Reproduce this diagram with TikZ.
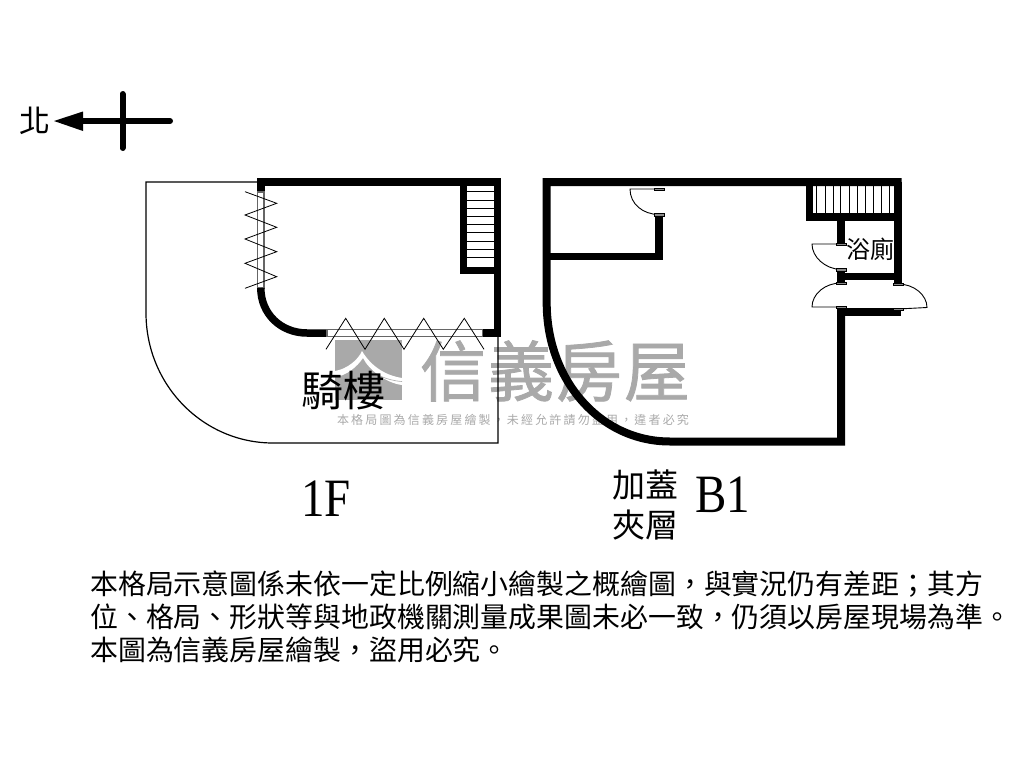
\documentclass[tikz,border=0pt]{standalone}
\usepackage{xcolor}
\usepackage{fontspec}
\setmainfont{Liberation Serif}
\newfontfamily\narrowfont[FakeStretch=0.87]{Liberation Serif}
\newfontfamily\cjkfont{Noto Sans CJK TC}
\newfontfamily\wmbigfont[LetterSpace=3,FakeBold=1.2]{Noto Sans CJK TC}
\newfontfamily\wmsmallfont[LetterSpace=18]{Noto Sans CJK TC}
\definecolor{wmgray}{HTML}{A9A9A9}
\begin{document}
\begin{tikzpicture}[x=1pt,y=-1pt,
    wall/.style={line width=7.5pt,line cap=butt,line join=miter},
    thin line/.style={line width=1.2pt},
    tread/.style={line width=.8pt},
    zigzag/.style={line width=.8pt,line join=miter},
    window/.style={draw=black!60,fill=white,line width=1.2pt},
    hinge/.style={draw=black,fill=black!45,line width=.4pt},
    cjklabel/.style={font=\cjkfont\fontsize{#1}{#1}\selectfont,inner sep=0pt},
    latinlabel/.style={font=\narrowfont\fontsize{#1}{#1}\selectfont,inner sep=0pt}]
  \useasboundingbox (0,0) rectangle (1024,768);

  \fill[wmgray] (335,340) rectangle (402,400);
  \fill[white] (362,351) .. controls (358,360) and (347,369) .. (335,371) -- (335,377)
    .. controls (346,376) and (357,367) .. (363,358)
    .. controls (369,370) and (386,383) .. (402,385) -- (402,378)
    .. controls (388,376) and (372,368) .. (362,351);
  \draw[wmgray,line width=.6pt] (380,376) .. controls (387,379) and (394,381) .. (402,381.5);
  \node[font=\wmbigfont\fontsize{66}{66}\selectfont,text=wmgray,inner sep=0pt] (wmname) at (555,371) {信義房屋};
  \node[font=\wmsmallfont\fontsize{12}{12}\selectfont,text=wmgray,inner sep=0pt] (wmnote) at (513,420) {本格局圖為信義房屋繪製，未經允許請勿盜用，違者必究};

  \draw[thin line] (258,182) -- (146,182) -- (146,313) .. controls (146,385) and (203,443) .. (273,443) -- (498,443) -- (498,335);
  \draw[wall] (257,182) -- (501,182);
  \draw[wall] (497.3,182) -- (497.3,337);
  \draw[wall] (463.7,182) -- (463.7,270.3) -- (497,270.3);
  \foreach \y in {191.7,200,208.3,216.7,224.3,232.7,241,249,257.3}
    \draw[tread] (467,\y) -- (494,\y);
  \draw[wall] (260.8,182) -- (260.8,192);
  \draw[window] (257.5,192) rectangle (264,288);
  \draw[wall] (260.8,288) .. controls (260.8,314) and (281,333) .. (307,333) -- (327,333);
  \draw[window] (327,329.8) rectangle (483,336.3);
  \draw[wall] (483,333) -- (501,333);
  \draw[zigzag] (245,191.7) -- (276.7,203.3) -- (245,215) -- (276.7,227.3) -- (245,239) -- (276.7,251.7) -- (245,263.3) -- (276.7,276.7) -- (245,288.3);
  \draw[zigzag] (326,349.3) -- (345.7,318.3) -- (365,349.3) -- (384.3,318.3) -- (404,349.3) -- (423.7,318.3) -- (443.3,349.3) -- (464.3,318.3) -- (484,349.3);

  \draw[wall,line width=8pt] (901.7,182) -- (546.7,182) -- (546.7,303) .. controls (546.7,380) and (600,441.5) .. (670,441.5) -- (841,441.5) -- (841,307);
  \draw[wall] (841,312) -- (901,312);
  \draw[wall] (897.8,182) -- (897.8,283);
  \draw[wall] (809.5,182) -- (809.5,217.2) -- (901,217.2);
  \foreach \x in {816.7,825,833.3,840.7,849,857.3,865,873.3,881.7,889.3}
    \draw[tread] (\x,186) -- (\x,213.5);
  \draw[wall] (841,217) -- (841,243);
  \draw[wall] (841,268.5) -- (841,283);
  \draw[wall] (841,276.7) -- (894,276.7);
  \draw[wall] (658.8,215) -- (658.8,256.7) -- (547,256.7);

  \draw[line width=.9pt] (659,214.5) .. controls (643,214.5) and (630,204) .. (630,189) -- (659,189);
  \draw[line width=.9pt] (841,244) -- (812,244) .. controls (812,257) and (825,269) .. (841,269.5);
  \draw[line width=.9pt] (841,283) .. controls (825,283) and (812,294) .. (812,307) -- (841,307);
  \draw[line width=.9pt] (898,284) .. controls (914,284) and (927,295) .. (927,307.5) -- (898,309);
  \foreach \x/\y in {659/189,659/214.5,841/244,841/269.5,841/283,898/284,841/307,898/309}
    \draw[hinge] (\x-5,\y-1.3) rectangle (\x+5,\y+1.3);

  \draw[line width=6pt,line cap=round] (170,121) -- (82,121);
  \draw[line width=6pt,line cap=round] (122.5,94) -- (122.5,148);
  \fill (54,121) -- (83,111.5) -- (83,131) -- cycle;

  \node[cjklabel=31] (north) at (35,121) {北};
  \node[cjklabel=42] (arcade) at (343,391) {騎樓};
  \node[cjklabel=24] (bath) at (870,249) {浴廁};
  \node[latinlabel=54,anchor=base west] (firstfloor) at (301,516) {1F};
  \node[latinlabel=54,anchor=base west] (basement) at (695,512) {B1};
  \node[font=\cjkfont\fontsize{33}{40}\selectfont,inner sep=0pt,align=center] (mezzanine) at (645.5,505) {加蓋\\夾層};
  \node[font=\cjkfont\fontsize{27.9}{33}\selectfont,inner sep=0pt,align=left,anchor=north west] (notice) at (90,570) {本格局示意圖係未依一定比例縮小繪製之概繪圖，與實況仍有差距；其方\\位、格局、形狀等與地政機關測量成果圖未必一致，仍須以房屋現場為準。\\本圖為信義房屋繪製，盜用必究。};
\end{tikzpicture}
\end{document}
